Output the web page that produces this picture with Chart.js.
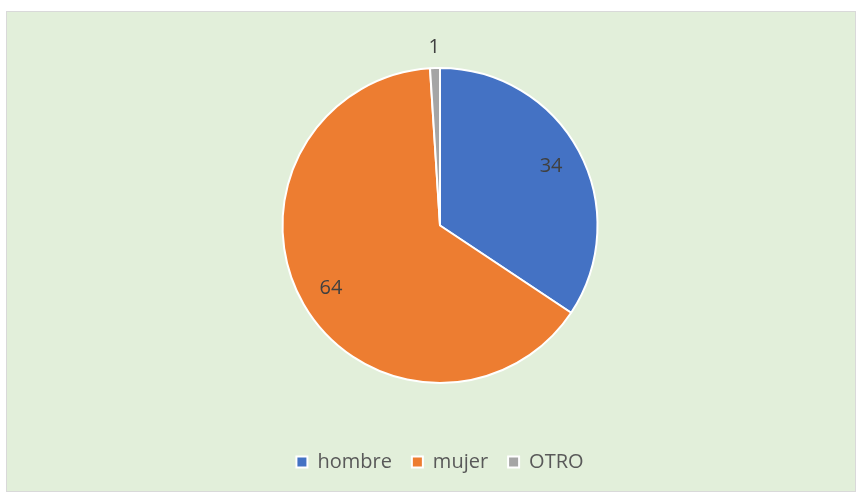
<!DOCTYPE html>
<html>
<head>
<meta charset="utf-8">
<script src="https://cdn.jsdelivr.net/npm/chart.js@4"></script>
<style>
  html, body { margin: 0; padding: 0; background: #ffffff; }
  #frame {
    position: absolute; left: 6px; top: 11px; width: 850px; height: 481px;
    background: #E2EFDA; border: 1px solid #d9d9d9; box-sizing: border-box;
  }
  #frame canvas { display: block; }
</style>
</head>
<body>
<div id="frame"><canvas id="pieChart" width="848" height="479"></canvas></div>
<script>
// Gráfico: distribución por sexo
const categorias = ['hombre', 'mujer', 'OTRO'];
const valores = [34, 64, 1];
const colores = ['#4472C4', '#ED7D31', '#A5A5A5'];

const fuente = '"Open Sans", "Liberation Sans", sans-serif';

// etiquetas de datos estilo Excel
const etiquetasPlugin = {
  id: 'etiquetas',
  afterDatasetsDraw(chart) {
    const ctx = chart.ctx;
    const meta = chart.getDatasetMeta(0);
    const total = valores.reduce((a, b) => a + b, 0);
    ctx.save();
    ctx.font = '20px ' + fuente;
    ctx.fillStyle = '#404040';
    ctx.textAlign = 'center';
    ctx.textBaseline = 'middle';
    meta.data.forEach((arc, i) => {
      const mid = (arc.startAngle + arc.endAngle) / 2;
      const r = valores[i] / total < 0.05 ? arc.outerRadius + 21 : arc.outerRadius * 0.8;
      const x = arc.x + Math.cos(mid) * r;
      const y = arc.y + Math.sin(mid) * r;
      ctx.fillText(String(valores[i]), x, y);
    });
    ctx.restore();
  }
};

const ctxPie = document.getElementById('pieChart').getContext('2d');
new Chart(ctxPie, {
  type: 'pie',
  data: {
    labels: categorias,
    datasets: [{
      data: valores,
      backgroundColor: colores,
      borderColor: '#ffffff',
      borderWidth: 2
    }]
  },
  options: {
    responsive: false,
    animation: false,
    layout: { padding: { top: 55, left: 18, right: 0, bottom: 9 } },
    plugins: {
      legend: {
        position: 'bottom',
        title: { display: true, text: '', font: { size: 10 }, padding: { top: 36, bottom: 0 } },
        labels: {
          boxWidth: 11,
          boxHeight: 11,
          padding: 20,
          color: '#595959',
          font: { size: 20, family: fuente }
        }
      },
      tooltip: { enabled: false }
    }
  },
  plugins: [etiquetasPlugin]
});
</script>
</body>
</html>
